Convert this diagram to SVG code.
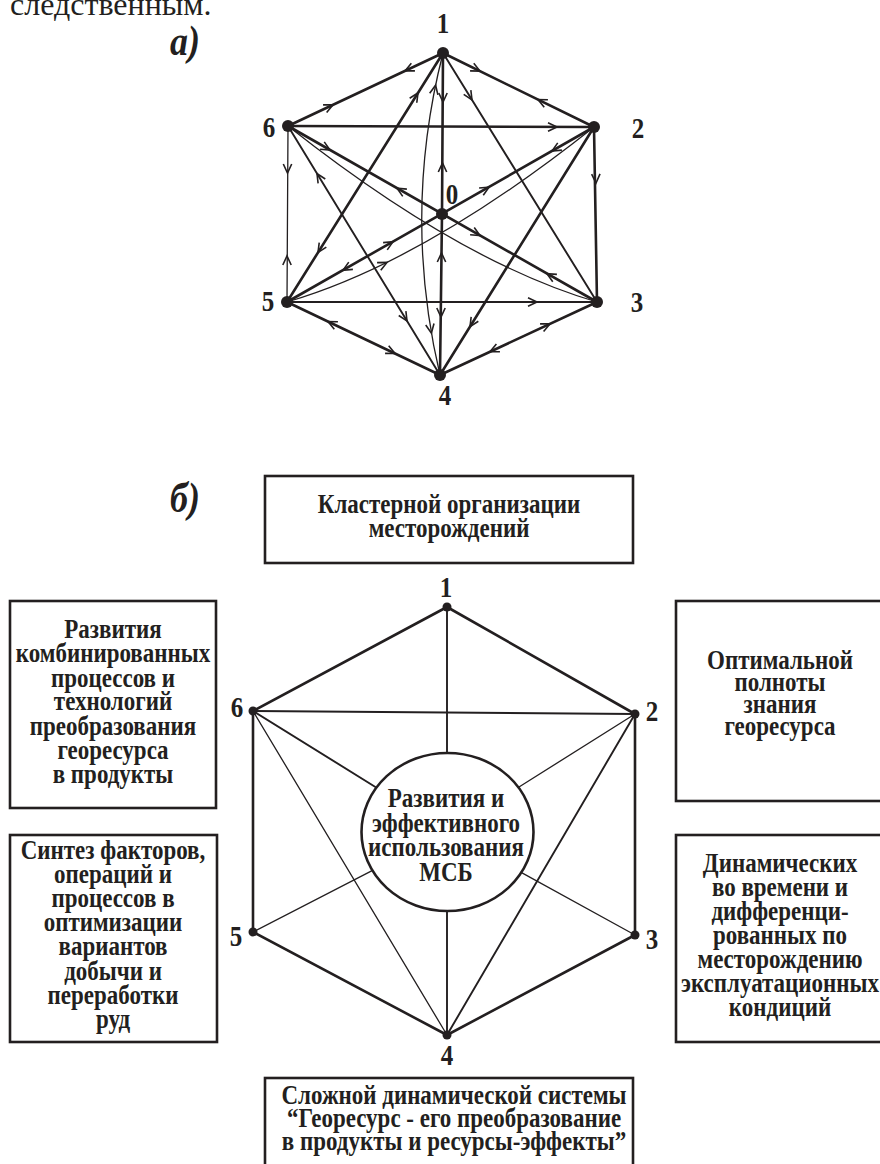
<svg xmlns="http://www.w3.org/2000/svg" width="880" height="1164" viewBox="0 0 880 1164">
<style>
.t{font-family:"Liberation Serif","Times New Roman",serif;font-weight:bold;fill:#231f20}
.body{font-family:"Liberation Serif","Times New Roman",serif;font-size:32px;fill:#231f20}
.ital{font-style:italic;font-size:36px}
.lab{font-size:25px;text-anchor:middle}
.bt{font-size:23px;text-anchor:middle}
.box{fill:#fff;stroke:#231f20;stroke-width:2.6}
.k{stroke:#231f20;fill:none;stroke-linecap:round}
.w3{stroke-width:2.6}
.w2{stroke-width:1.9}
.w1{stroke-width:1.3}
.dot{fill:#231f20}
</style>
<defs>
<path id="ar" d="M-9,-4.2 L0,0 L-9,4.2" fill="none" stroke="#231f20" stroke-width="1.6" stroke-linejoin="miter"/>
</defs>
<rect width="880" height="1164" fill="#fff"/>
<text class="body" x="10" y="15">следственным.</text>

<!-- PART A -->
<text class="t ital" transform="translate(170,55) scale(1,1.15)">а)</text>
<g id="a-connectors">
<line class="k w3" x1="443" y1="53" x2="288" y2="126"/>
<line class="k w3" x1="443" y1="53" x2="594" y2="127"/>
<line class="k w3" x1="288" y1="126" x2="594" y2="127"/>
<line class="k w1" x1="288" y1="126" x2="287" y2="302"/>
<line class="k w3" x1="594" y1="127" x2="597" y2="302"/>
<line class="k w2" x1="287" y1="302" x2="597" y2="302"/>
<line class="k w3" x1="287" y1="302" x2="440" y2="375"/>
<line class="k w3" x1="597" y1="302" x2="440" y2="375"/>
<polyline class="k w3" points="443,53 442,214 440,375"/>
<line class="k w3" x1="443" y1="53" x2="287" y2="302"/>
<line class="k w2" x1="443" y1="53" x2="597" y2="302"/>
<line class="k w2" x1="288" y1="126" x2="440" y2="375"/>
<line class="k w3" x1="594" y1="127" x2="440" y2="375"/>
<line class="k w3" x1="288" y1="126" x2="597" y2="302"/>
<line class="k w3" x1="594" y1="127" x2="287" y2="302"/>
<path class="k w1" d="M288,126 Q460,262 597,302"/>
<path class="k w1" d="M287,302 Q424,262 594,127"/>
<path class="k w1" d="M443,53 Q402,214 440,375"/>
<use href="#ar" transform="translate(405,70.9) rotate(154.8)"/>
<use href="#ar" transform="translate(333,104.8) rotate(-25.2)"/>
<use href="#ar" transform="translate(480,71.1) rotate(26.1)"/>
<use href="#ar" transform="translate(538,99.6) rotate(206.1)"/>
<use href="#ar" transform="translate(557,127) rotate(0)"/>
<use href="#ar" transform="translate(596,183) rotate(89)"/>
<use href="#ar" transform="translate(287.5,173) rotate(90)"/>
<use href="#ar" transform="translate(287,256) rotate(-90)"/>
<use href="#ar" transform="translate(537,302) rotate(0)"/>
<use href="#ar" transform="translate(328,321.6) rotate(205.5)"/>
<use href="#ar" transform="translate(395,353.5) rotate(25.5)"/>
<use href="#ar" transform="translate(550,323.9) rotate(-24.9)"/>
<use href="#ar" transform="translate(490,351.7) rotate(155.1)"/>
<use href="#ar" transform="translate(443,102) rotate(90)"/>
<use href="#ar" transform="translate(442.5,163) rotate(-90)"/>
<use href="#ar" transform="translate(441.5,253) rotate(-90)"/>
<use href="#ar" transform="translate(441,317) rotate(90)"/>
<use href="#ar" transform="translate(418,92.9) rotate(-57.9)"/>
<use href="#ar" transform="translate(318,252.5) rotate(122.1)"/>
<use href="#ar" transform="translate(472,99.9) rotate(58.3)"/>
<use href="#ar" transform="translate(317,173.5) rotate(-121.4)"/>
<use href="#ar" transform="translate(407,321) rotate(58.6)"/>
<use href="#ar" transform="translate(470,326.7) rotate(121.8)"/>
<use href="#ar" transform="translate(330,150) rotate(29.7)"/>
<use href="#ar" transform="translate(397,188.3) rotate(209.7)"/>
<use href="#ar" transform="translate(480,235.6) rotate(29.6)"/>
<use href="#ar" transform="translate(547,273.6) rotate(209.6)"/>
<use href="#ar" transform="translate(552,151) rotate(150.2)"/>
<use href="#ar" transform="translate(489,187.1) rotate(-29.8)"/>
<use href="#ar" transform="translate(393,241.8) rotate(-29.6)"/>
<use href="#ar" transform="translate(343,270.2) rotate(150.4)"/>
<use href="#ar" transform="translate(387,262.4) rotate(-26.2)"/>
<use href="#ar" transform="translate(435.6,85.2) rotate(-78.4)"/>
<use href="#ar" transform="translate(431.4,333.1) rotate(80.2)"/>
</g>
<g id="a-n1"><circle class="dot" cx="443" cy="53" r="6"/><text class="t lab" transform="translate(443,33) scale(1,1.2)">1</text></g>
<g id="a-n2"><circle class="dot" cx="594" cy="127" r="6"/><text class="t lab" transform="translate(638,138) scale(1,1.2)">2</text></g>
<g id="a-n3"><circle class="dot" cx="597" cy="302" r="6"/><text class="t lab" transform="translate(637,312) scale(1,1.2)">3</text></g>
<g id="a-n4"><circle class="dot" cx="440" cy="375" r="6"/><text class="t lab" transform="translate(445,405) scale(1,1.2)">4</text></g>
<g id="a-n5"><circle class="dot" cx="287" cy="302" r="6"/><text class="t lab" transform="translate(268,311) scale(1,1.2)">5</text></g>
<g id="a-n6"><circle class="dot" cx="288" cy="126" r="6"/><text class="t lab" transform="translate(269,137) scale(1,1.2)">6</text></g>
<g id="a-n0"><circle class="dot" cx="442" cy="214" r="6"/><text class="t lab" transform="translate(452,204) scale(1,1.2)">0</text></g>

<!-- PART B -->
<text class="t ital" transform="translate(170,512) scale(1,1.15)">б)</text>
<g id="b-connectors">
<line class="k w3" x1="447" y1="607" x2="253" y2="711"/>
<line class="k w3" x1="447" y1="607" x2="635" y2="714"/>
<line class="k w2" x1="447" y1="607" x2="447" y2="753"/>
<line class="k w2" x1="253" y1="711" x2="635" y2="714"/>
<line class="k w2" x1="253" y1="711" x2="376.6" y2="787.7"/>
<line class="k w1" x1="635" y1="714" x2="518.2" y2="787.5"/>
<line class="k w1" x1="253" y1="932" x2="372.6" y2="870.4"/>
<line class="k w1" x1="635" y1="935" x2="521.1" y2="872.4"/>
<line class="k w2" x1="447" y1="911" x2="447" y2="1035"/>
<line class="k w3" x1="253" y1="711" x2="253" y2="932"/>
<line class="k w3" x1="635" y1="714" x2="635" y2="935"/>
<line class="k w3" x1="253" y1="932" x2="447" y2="1035"/>
<line class="k w3" x1="635" y1="935" x2="447" y2="1035"/>
<line class="k w1" x1="253" y1="711" x2="447" y2="1035"/>
<line class="k w2" x1="635" y1="714" x2="447" y2="1035"/>
</g>
<g id="b-n1"><circle class="dot" cx="447" cy="607" r="4.5"/><text class="t lab" transform="translate(446,597) scale(1,1.2)">1</text></g>
<g id="b-n2"><circle class="dot" cx="635" cy="714" r="4.5"/><text class="t lab" transform="translate(652,721) scale(1,1.2)">2</text></g>
<g id="b-n3"><circle class="dot" cx="635" cy="935" r="4.5"/><text class="t lab" transform="translate(652,949) scale(1,1.2)">3</text></g>
<g id="b-n4"><circle class="dot" cx="447" cy="1035" r="4.5"/><text class="t lab" transform="translate(447,1065) scale(1,1.2)">4</text></g>
<g id="b-n5"><circle class="dot" cx="253" cy="932" r="4.5"/><text class="t lab" transform="translate(236,946) scale(1,1.2)">5</text></g>
<g id="b-n6"><circle class="dot" cx="253" cy="711" r="4.5"/><text class="t lab" transform="translate(237,717) scale(1,1.2)">6</text></g>

<g id="b-center">
<ellipse cx="447.5" cy="832" rx="86" ry="79" fill="#fff" stroke="#231f20" stroke-width="2.6"/>
<text class="t bt" transform="translate(446,0) scale(1,1.15)"><tspan x="0" y="701.7">Развития и</tspan><tspan x="0" y="723.5">эффективного</tspan><tspan x="0" y="744.3">использования</tspan><tspan x="0" y="766.1">МСБ</tspan></text>
</g>
<g id="box-top">
<rect class="box" x="265" y="476" width="368" height="87"/>
<text class="t bt" transform="translate(449,0) scale(1,1.15)"><tspan x="0" y="446.1">Кластерной организации</tspan><tspan x="0" y="467">месторождений</tspan></text>
</g>
<g id="box-left1">
<rect class="box" x="10" y="601" width="206" height="207"/>
<text class="t bt" transform="translate(113,0) scale(1,1.15)"><tspan x="0" y="554.8">Развития</tspan><tspan x="0" y="575.7">комбинированных</tspan><tspan x="0" y="597">процессов и</tspan><tspan x="0" y="617.8">технологий</tspan><tspan x="0" y="639.1">преобразования</tspan><tspan x="0" y="660">георесурса</tspan><tspan x="0" y="681.3">в продукты</tspan></text>
</g>
<g id="box-right1">
<rect class="box" x="676" y="601" width="214" height="200"/>
<text class="t bt" transform="translate(780,0) scale(1,1.15)"><tspan x="0" y="581.7">Оптимальной</tspan><tspan x="0" y="600.9">полноты</tspan><tspan x="0" y="620">знания</tspan><tspan x="0" y="639.1">георесурса</tspan></text>
</g>
<g id="box-left2">
<rect class="box" x="10" y="835" width="207" height="207"/>
<text class="t bt" transform="translate(113,0) scale(1,1.15)"><tspan x="0" y="747">Синтез факторов,</tspan><tspan x="0" y="767.8">операций и</tspan><tspan x="0" y="788.7">процессов в</tspan><tspan x="0" y="809.6">оптимизации</tspan><tspan x="0" y="830.4">вариантов</tspan><tspan x="0" y="852.2">добычи и</tspan><tspan x="0" y="873">переработки</tspan><tspan x="0" y="893.9">руд</tspan></text>
</g>
<g id="box-right2">
<rect class="box" x="676" y="835" width="214" height="207"/>
<text class="t bt" transform="translate(780,0) scale(1,1.15)"><tspan x="0" y="758.3">Динамических</tspan><tspan x="0" y="779.1">во времени и</tspan><tspan x="0" y="800">дифференци-</tspan><tspan x="0" y="820.9">рованных по</tspan><tspan x="0" y="841.7">месторождению</tspan><tspan x="0" y="862.6">эксплуатационных</tspan><tspan x="0" y="883.5">кондиций</tspan></text>
</g>
<g id="box-bottom">
<rect class="box" x="265" y="1078" width="368" height="100"/>
<text class="t bt" transform="translate(454,0) scale(1,1.15)"><tspan x="0" y="960">Сложной динамической системы</tspan><tspan x="0" y="980">“Георесурс - его преобразование</tspan><tspan x="0" y="1000">в продукты и ресурсы-эффекты”</tspan></text>
</g>
</svg>
